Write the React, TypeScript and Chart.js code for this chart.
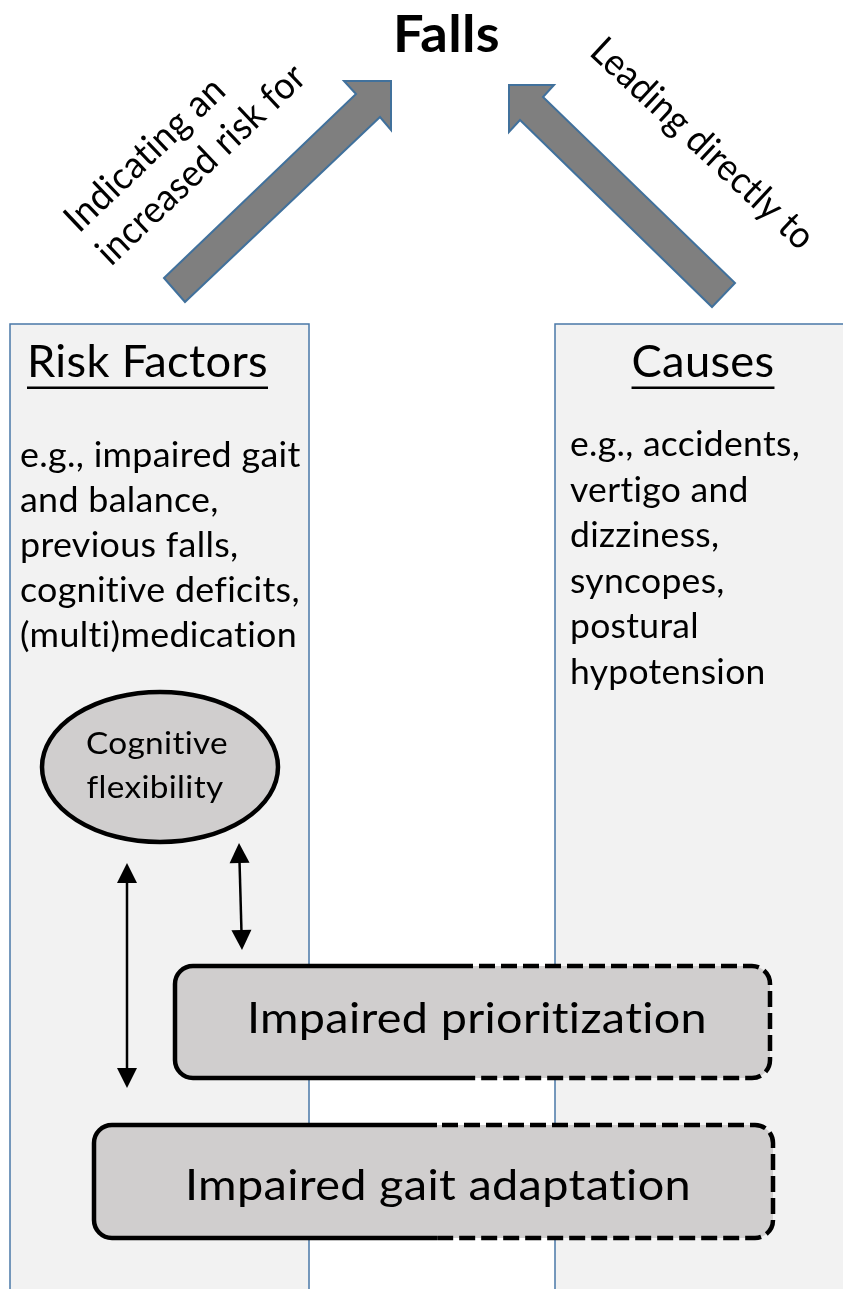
import React, { useEffect, useRef } from "react";
import { Chart, registerables } from "chart.js";

Chart.register(...registerables);

// ---------- content ----------
const titleText = "Falls";
const leftArrowLabel = ["Indicating an", "increased risk for"];
const rightArrowLabel = ["Leading directly to"];
const panelTitles = ["Risk Factors", "Causes"];
const riskFactorLines = ["e.g., impaired gait", "and balance,", "previous falls,", "cognitive deficits,", "(multi)medication"];
const causeLines = ["e.g., accidents,", "vertigo and", "dizziness,", "syncopes,", "postural", "hypotension"];
const ellipseLines = ["Cognitive", "flexibility"];
const boxLabels = ["Impaired prioritization", "Impaired gait adaptation"];

// ---------- diagram geometry (diagram units = scale values) ----------
const panelX0 = [10, 555];
const panelX1 = [309, 870];
const panelTop = 324;

const leftArrowX = [164, 356, 344, 391, 391, 380, 185];
const leftArrowY = [278, 94, 81, 81, 130, 117, 302];
const rightArrowX = [509, 554, 543, 735, 712, 520, 509];
const rightArrowY = [85, 85, 97, 283, 307, 120, 132];

const ellipseCenter = [160, 767];
const ellipseRadii = [118, 75];

const dblArrowX1 = [127, 239];
const dblArrowY1 = [863, 843];
const dblArrowX2 = [127, 242];
const dblArrowY2 = [1088, 950];

const boxX0 = [175, 94];
const boxX1 = [770, 773];
const boxY0 = [966, 1125];
const boxY1 = [1078, 1238];
const boxSplit = [472, 437];

const FONT = "Lato, Carlito, 'Open Sans', sans-serif";
const W = 843;
const H = 1289;
const SPACING = "0.3px"; // non-zero spacing suppresses ligatures (fi, ti)

function fitScale(ctx: CanvasRenderingContext2D, font: string, text: string, target: number) {
  ctx.save();
  ctx.font = font;
  (ctx as any).letterSpacing = SPACING;
  const w = ctx.measureText(text).width;
  ctx.restore();
  return w > 0 ? target / w : 1;
}

function drawText(
  ctx: CanvasRenderingContext2D,
  text: string,
  x: number,
  y: number,
  font: string,
  align: CanvasTextAlign,
  sx: number,
  rot = 0
) {
  ctx.save();
  ctx.font = font;
  (ctx as any).letterSpacing = SPACING;
  ctx.fillStyle = "#000";
  ctx.textAlign = align;
  ctx.textBaseline = "alphabetic";
  ctx.translate(x, y);
  if (rot) ctx.rotate(rot);
  ctx.scale(sx, 1);
  ctx.fillText(text, 0, 0);
  ctx.restore();
}

const diagramPlugin = {
  id: "diagram",
  beforeDraw(chart: any) {
    const ctx: CanvasRenderingContext2D = chart.ctx;
    const xs = chart.scales.x;
    const ys = chart.scales.y;
    const px = (v: number) => xs.getPixelForValue(v);
    const py = (v: number) => ys.getPixelForValue(v);

    ctx.save();
    ctx.fillStyle = "#fff";
    ctx.fillRect(0, 0, chart.width, chart.height);

    // panels
    for (let i = 0; i < panelX0.length; i++) {
      const x0 = px(panelX0[i]);
      const x1 = px(panelX1[i]);
      const y0 = py(panelTop);
      const y1 = py(H + 20);
      ctx.fillStyle = "#f2f2f2";
      ctx.fillRect(x0, y0, x1 - x0, y1 - y0);
      ctx.strokeStyle = "#4a78a8";
      ctx.lineWidth = 1.5;
      ctx.strokeRect(x0, y0, x1 - x0, y1 - y0);
    }

    // block arrows
    const poly = (xsArr: number[], ysArr: number[]) => {
      ctx.beginPath();
      xsArr.forEach((v, k) => {
        if (k === 0) ctx.moveTo(px(v), py(ysArr[k]));
        else ctx.lineTo(px(v), py(ysArr[k]));
      });
      ctx.closePath();
      ctx.fillStyle = "#7f7f7f";
      ctx.fill();
      ctx.strokeStyle = "#41719c";
      ctx.lineWidth = 2;
      ctx.lineJoin = "miter";
      ctx.stroke();
    };
    poly(leftArrowX, leftArrowY);
    poly(rightArrowX, rightArrowY);

    // title
    const fTitle = `bold 52px ${FONT}`;
    drawText(ctx, titleText, px(446.5), py(52), fTitle, "center", fitScale(ctx, fTitle, titleText, 107));

    // rotated labels
    const fRot = `38px ${FONT}`;
    const angL = (-43.5 * Math.PI) / 180;
    drawText(ctx, leftArrowLabel[0], px(79), py(234), fRot, "left", fitScale(ctx, fRot, leftArrowLabel[0], 205), angL);
    drawText(ctx, leftArrowLabel[1], px(111), py(267), fRot, "left", fitScale(ctx, fRot, leftArrowLabel[1], 272), angL);
    const angR = (43 * Math.PI) / 180;
    drawText(ctx, rightArrowLabel[0], px(588), py(54), fRot, "left", fitScale(ctx, fRot, rightArrowLabel[0], 290), angR);

    // panel titles
    const fHead = `45px ${FONT}`;
    const sHead = fitScale(ctx, fHead, panelTitles[0], 241);
    const headCx = [147.5, 703];
    panelTitles.forEach((t, i) => {
      drawText(ctx, t, px(headCx[i]), py(377), fHead, "center", sHead);
      ctx.save();
      ctx.font = fHead;
      (ctx as any).letterSpacing = SPACING;
      const w = ctx.measureText(t).width * sHead;
      ctx.fillStyle = "#000";
      ctx.fillRect(px(headCx[i]) - w / 2, py(386.5), w, 2.5);
      ctx.restore();
    });

    // body text
    const fBody = `34.5px ${FONT}`;
    const sBodyL = fitScale(ctx, fBody, riskFactorLines[4], 277);
    riskFactorLines.forEach((t, i) => {
      drawText(ctx, t, px(20), py(467 + i * 45), fBody, "left", sBodyL);
    });
    const sBodyR = fitScale(ctx, fBody, causeLines[0], 230);
    causeLines.forEach((t, i) => {
      drawText(ctx, t, px(570), py(456 + i * 45.6), fBody, "left", sBodyR);
    });

    // ellipse
    ctx.beginPath();
    ctx.ellipse(px(ellipseCenter[0]), py(ellipseCenter[1]), ellipseRadii[0], ellipseRadii[1], 0, 0, Math.PI * 2);
    ctx.fillStyle = "#d0cece";
    ctx.fill();
    ctx.lineWidth = 4.5;
    ctx.strokeStyle = "#000";
    ctx.stroke();
    const fEl = `31px ${FONT}`;
    const sEl = fitScale(ctx, fEl, ellipseLines[0], 142);
    drawText(ctx, ellipseLines[0], px(157), py(754), fEl, "center", sEl);
    drawText(ctx, ellipseLines[1], px(155), py(798), fEl, "center", sEl);

    // double-headed arrows
    for (let i = 0; i < dblArrowX1.length; i++) {
      const x1 = px(dblArrowX1[i]);
      const y1 = py(dblArrowY1[i]);
      const x2 = px(dblArrowX2[i]);
      const y2 = py(dblArrowY2[i]);
      const dx = x2 - x1;
      const dy = y2 - y1;
      const len = Math.hypot(dx, dy);
      const ux = dx / len;
      const uy = dy / len;
      const hl = 20;
      const hw = 10;
      ctx.beginPath();
      ctx.moveTo(x1 + ux * hl * 0.8, y1 + uy * hl * 0.8);
      ctx.lineTo(x2 - ux * hl * 0.8, y2 - uy * hl * 0.8);
      ctx.strokeStyle = "#000";
      ctx.lineWidth = 2.5;
      ctx.stroke();
      const head = (tx: number, ty: number, dirx: number, diry: number) => {
        ctx.beginPath();
        ctx.moveTo(tx, ty);
        ctx.lineTo(tx - dirx * hl - diry * hw, ty - diry * hl + dirx * hw);
        ctx.lineTo(tx - dirx * hl + diry * hw, ty - diry * hl - dirx * hw);
        ctx.closePath();
        ctx.fillStyle = "#000";
        ctx.fill();
      };
      head(x1, y1, -ux, -uy);
      head(x2, y2, ux, uy);
    }

    // rounded boxes
    const fBox = `43px ${FONT}`;
    for (let i = 0; i < boxX0.length; i++) {
      const x0 = px(boxX0[i]);
      const x1 = px(boxX1[i]);
      const y0 = py(boxY0[i]);
      const y1 = py(boxY1[i]);
      const split = px(boxSplit[i]);
      const path = () => {
        ctx.beginPath();
        (ctx as any).roundRect(x0, y0, x1 - x0, y1 - y0, 18);
      };
      path();
      ctx.fillStyle = "#d0cece";
      ctx.fill();
      ctx.save();
      ctx.beginPath();
      ctx.rect(x0 - 10, y0 - 10, split - x0 + 10, y1 - y0 + 20);
      ctx.clip();
      path();
      ctx.strokeStyle = "#000";
      ctx.lineWidth = 4.5;
      ctx.stroke();
      ctx.restore();
      ctx.save();
      ctx.beginPath();
      ctx.rect(split, y0 - 10, x1 - split + 10, y1 - y0 + 20);
      ctx.clip();
      path();
      ctx.setLineDash([16, 6]);
      ctx.strokeStyle = "#000";
      ctx.lineWidth = 4.5;
      ctx.stroke();
      ctx.restore();
      const cx = i === 0 ? 477 : 438;
      const cy = i === 0 ? 1033 : 1200;
      const target = i === 0 ? 460 : 506;
      drawText(ctx, boxLabels[i], px(cx), py(cy), fBox, "center", fitScale(ctx, fBox, boxLabels[i], target));
    }
    ctx.restore();
  },
};

export default function App() {
  const ref = useRef<HTMLCanvasElement | null>(null);
  useEffect(() => {
    if (!ref.current) return;
    const chart = new Chart(ref.current, {
      type: "scatter",
      data: { datasets: [{ data: [], pointRadius: 0 }] },
      options: {
        animation: false,
        responsive: false,
        devicePixelRatio: 1,
        layout: { padding: 0 },
        plugins: { legend: { display: false }, tooltip: { enabled: false } },
        scales: {
          x: { type: "linear", min: 0, max: W, display: false },
          y: { type: "linear", min: 0, max: H, reverse: true, display: false },
        },
      },
      plugins: [diagramPlugin],
    });
    return () => chart.destroy();
  }, []);
  return (
    <div style={{ position: "absolute", left: 0, top: 0, width: W, height: H, overflow: "hidden" }}>
      <canvas ref={ref} width={W} height={H} style={{ display: "block", width: W, height: H }} />
    </div>
  );
}
